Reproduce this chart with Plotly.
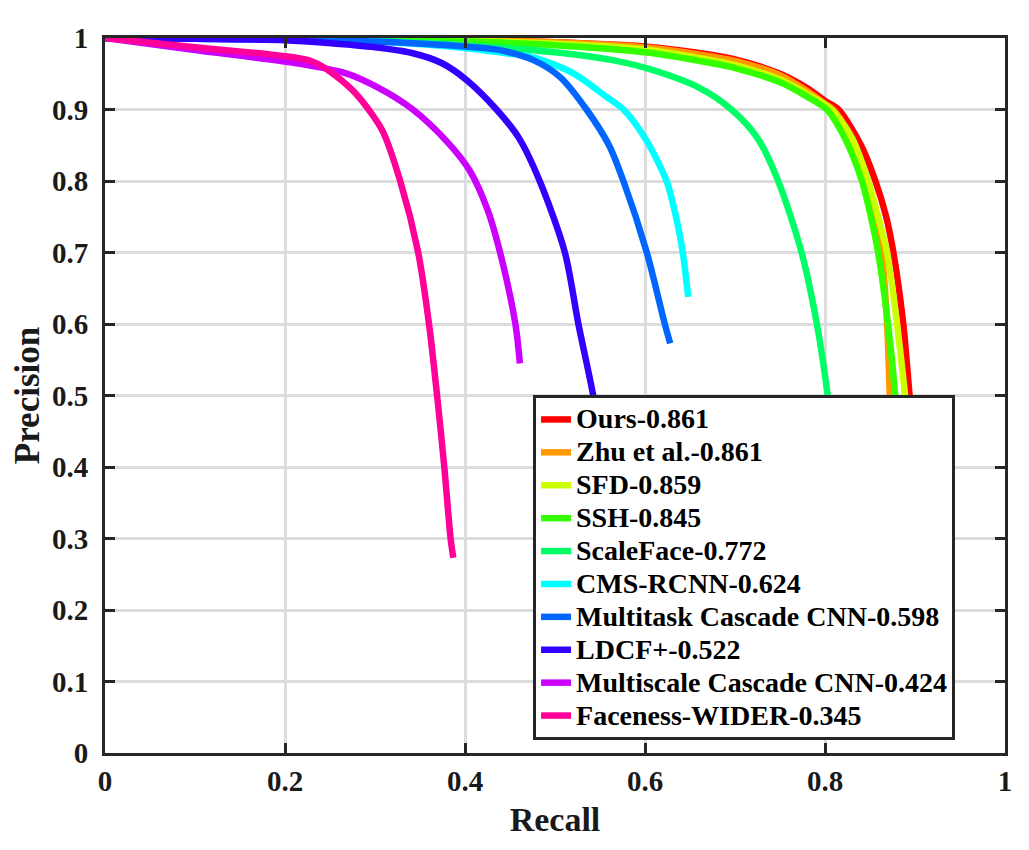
import plotly.graph_objects as go

names = ["Ours-0.861", "Zhu et al.-0.861", "SFD-0.859", "SSH-0.845", "ScaleFace-0.772",
         "CMS-RCNN-0.624", "Multitask Cascade CNN-0.598", "LDCF+-0.522",
         "Multiscale Cascade CNN-0.424", "Faceness-WIDER-0.345"]
colors = ["#FF0000", "#FF9900", "#CCFF00", "#33FF00", "#00FF66",
          "#00FFFF", "#0066FF", "#3300FF", "#CC00FF", "#FF0099"]

ours_r = [0, 0.2, 0.4, 0.5, 0.6, 0.66, 0.70, 0.75, 0.78, 0.80, 0.815, 0.84, 0.856, 0.868, 0.876, 0.887, 0.894, 0.90]
ours_p = [1, 0.999, 0.997, 0.994, 0.988, 0.979, 0.970, 0.950, 0.930, 0.912, 0.90, 0.85, 0.80, 0.75, 0.70, 0.60, 0.50, 0.42]

zhu_r = [0, 0.2, 0.4, 0.5, 0.6, 0.66, 0.70, 0.75, 0.78, 0.80, 0.809, 0.83, 0.846, 0.856, 0.863, 0.869, 0.872, 0.875]
zhu_p = [1, 0.999, 0.997, 0.994, 0.987, 0.977, 0.968, 0.948, 0.926, 0.908, 0.90, 0.86, 0.80, 0.75, 0.70, 0.60, 0.50, 0.42]

sfd_r = [0, 0.2, 0.4, 0.5, 0.6, 0.66, 0.70, 0.75, 0.78, 0.807, 0.83, 0.848, 0.859, 0.869, 0.88, 0.889, 0.897, 0.91, 0.925, 0.937]
sfd_p = [1, 0.999, 0.996, 0.992, 0.984, 0.972, 0.962, 0.942, 0.922, 0.90, 0.86, 0.80, 0.75, 0.70, 0.60, 0.50, 0.40, 0.25, 0.10, 0.02]

ssh_r = [0, 0.2, 0.4, 0.5, 0.6, 0.66, 0.70, 0.75, 0.78, 0.802, 0.822, 0.841, 0.851, 0.859, 0.87, 0.878, 0.882]
ssh_p = [1, 0.999, 0.995, 0.990, 0.980, 0.968, 0.958, 0.938, 0.918, 0.90, 0.86, 0.80, 0.75, 0.70, 0.60, 0.50, 0.42]

scaleface_r = [0, 0.2, 0.3, 0.4, 0.5, 0.564, 0.609, 0.661, 0.696, 0.725, 0.748, 0.774, 0.791, 0.803, 0.81]
scaleface_p = [1, 0.999, 0.996, 0.99, 0.98, 0.969, 0.955, 0.93, 0.90, 0.86, 0.80, 0.70, 0.60, 0.50, 0.42]

cms_r = [0, 0.2, 0.3, 0.4, 0.45, 0.476, 0.52, 0.558, 0.576, 0.60, 0.624, 0.636, 0.642, 0.648]
cms_p = [1, 0.998, 0.995, 0.986, 0.978, 0.973, 0.951, 0.917, 0.90, 0.86, 0.80, 0.741, 0.70, 0.638]

mtcnn_r = [0, 0.2, 0.3, 0.4, 0.439, 0.476, 0.506, 0.535, 0.56, 0.576, 0.602, 0.622, 0.628]
mtcnn_p = [1, 0.998, 0.995, 0.988, 0.983, 0.969, 0.945, 0.90, 0.85, 0.80, 0.70, 0.60, 0.573]

ldcf_r = [0, 0.1, 0.2, 0.248, 0.3, 0.341, 0.374, 0.402, 0.435, 0.46, 0.483, 0.511, 0.526, 0.542, 0.55]
ldcf_p = [1, 0.999, 0.997, 0.993, 0.987, 0.979, 0.965, 0.941, 0.90, 0.86, 0.80, 0.70, 0.60, 0.503, 0.44]

mscnn_r = [0, 0.1, 0.211, 0.267, 0.303, 0.342, 0.38, 0.405, 0.425, 0.439, 0.456, 0.461]
mscnn_p = [1, 0.983, 0.965, 0.951, 0.931, 0.90, 0.855, 0.815, 0.76, 0.70, 0.60, 0.545]

faceness_r = [0, 0.1, 0.226, 0.248, 0.278, 0.308, 0.328, 0.348, 0.36, 0.369, 0.377, 0.384, 0.387]
faceness_p = [1, 0.987, 0.969, 0.955, 0.923, 0.871, 0.80, 0.70, 0.60, 0.50, 0.40, 0.30, 0.273]

series_r = [ours_r, zhu_r, sfd_r, ssh_r, scaleface_r, cms_r, mtcnn_r, ldcf_r, mscnn_r, faceness_r]
series_p = [ours_p, zhu_p, sfd_p, ssh_p, scaleface_p, cms_p, mtcnn_p, ldcf_p, mscnn_p, faceness_p]

x_ticks = [0, 0.2, 0.4, 0.6, 0.8, 1]
x_tick_labels = ["0", "0.2", "0.4", "0.6", "0.8", "1"]
y_ticks = [0, 0.1, 0.2, 0.3, 0.4, 0.5, 0.6, 0.7, 0.8, 0.9, 1]
y_tick_labels = ["0", "0.1", "0.2", "0.3", "0.4", "0.5", "0.6", "0.7", "0.8", "0.9", "1"]

fig = go.Figure()
for n, c, r, p in zip(names, colors, series_r, series_p):
    fig.add_trace(go.Scatter(x=r, y=p, mode="lines",
                             name='<span style="font-size:28px">' + n + '</span>',
                             line=dict(color=c, width=6.5, shape="spline", smoothing=0.8)))

axis_color = "#262626"
font_family = "Liberation Serif"

fig.update_layout(
    width=1029, height=850,
    margin=dict(l=105, r=24, t=38, b=97),
    paper_bgcolor="white", plot_bgcolor="white",
    font=dict(family=font_family, color="#1a1a1a", size=29, weight="bold"),
    showlegend=True,
    legend=dict(x=0.4756, y=0.5007, xanchor="left", yanchor="top",
                bgcolor="white", bordercolor=axis_color, borderwidth=3,
                font=dict(family=font_family, size=23, color="#000000", weight="bold"),
                tracegroupgap=0, entrywidth=410, entrywidthmode="pixels"),
)
fig.update_xaxes(range=[0, 1], tickvals=x_ticks, ticktext=x_tick_labels,
                 showline=True, linecolor=axis_color, linewidth=3, mirror="ticks",
                 ticks="inside", ticklen=10, tickwidth=3, tickcolor=axis_color,
                 showgrid=True, gridcolor="#dcdcdc", gridwidth=2.5, zeroline=False,
                 title=dict(text="Recall", font=dict(size=34, family=font_family, weight="bold"), standoff=12))
fig.update_yaxes(range=[0, 1], tickvals=y_ticks, ticktext=y_tick_labels,
                 showline=True, linecolor=axis_color, linewidth=3, mirror="ticks",
                 ticks="inside", ticklen=10, tickwidth=3, tickcolor=axis_color,
                 showgrid=True, gridcolor="#dcdcdc", gridwidth=2.5, zeroline=False,
                 ticklabelstandoff=8,
                 title=dict(text="Precision", font=dict(size=35, family=font_family, weight="bold"), standoff=2))

fig.write_html("out.html")
